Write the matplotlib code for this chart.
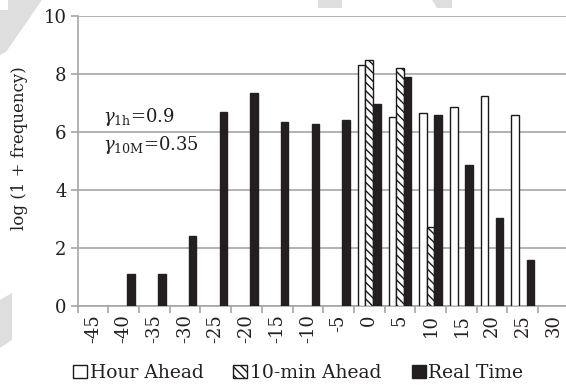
import numpy as np
import matplotlib
matplotlib.use("Agg")
import matplotlib.pyplot as plt
from matplotlib.patches import Polygon, Patch

# error bins (x categories)
categories = [-45, -40, -35, -30, -25, -20, -15, -10, -5, 0, 5, 10, 15, 20, 25, 30]

# log(1 + frequency); None = no bar
hour_ahead = [None, None, None, None, None, None, None, None, None,
              8.30, 6.50, 6.65, 6.87, 7.23, 6.60, None]
ten_min_ahead = [None, None, None, None, None, None, None, None, None,
                 8.47, 8.22, 2.72, None, None, None, None]
real_time = [None, 1.10, 1.10, 2.40, 6.70, 7.33, 6.35, 6.28, 6.42,
             6.95, 7.90, 6.57, 4.85, 3.03, 1.60, None]

series_names = ['Hour Ahead', '10-min Ahead', 'Real Time']
annotation = [r'$\gamma_{\mathrm{1h}}$=0.9', r'$\gamma_{\mathrm{10M}}$=0.35']

plt.rcParams['font.family'] = ['DejaVu Serif']
plt.rcParams['mathtext.fontset'] = 'dejavuserif'
plt.rcParams['hatch.linewidth'] = 1.0

W, H = 566, 387
fig = plt.figure(figsize=(W / 100, H / 100), dpi=100)


def px(x, y):
    return (x / W, 1 - y / H)


# faint watermark shapes of the scanned page
wm = '#dedede'
for pts in [
    [(0, 10), (8, 10), (8, 0), (42, 0), (6, 52), (0, 55)],
    [(318, 0), (342, 0), (342, 8), (318, 8)],
    [(432, 0), (452, 0), (452, 8), (437, 8)],
    [(0, 300), (12, 293), (12, 340), (0, 348)],
]:
    fig.add_artist(Polygon([px(*p) for p in pts], closed=True,
                           facecolor=wm, edgecolor='none', zorder=0))

ax = fig.add_axes([77.6 / W, 1 - 306 / H, (568.8 - 77.6) / W, (306 - 16) / H])

x = np.arange(len(categories))
width = 0.245
styles = [
    dict(facecolor='white', edgecolor='#1a1a1a', hatch=None),
    dict(facecolor='white', edgecolor='#1a1a1a', hatch='\\\\\\\\'),
    dict(facecolor='#231f20', edgecolor='#231f20', hatch=None),
]
for k, (vals, st) in enumerate(zip([hour_ahead, ten_min_ahead, real_time], styles)):
    v = np.array(vals, dtype=float)
    m = ~np.isnan(v)
    ax.bar(x[m] + (k - 1) * width, v[m], width, linewidth=1.0, zorder=3, **st)

ax.set_xlim(-0.5, len(categories) - 0.5)
ax.set_ylim(0, 10)
ax.set_yticks([0, 2, 4, 6, 8, 10])
ax.yaxis.grid(True, color='#a6a6a6', linewidth=1.2, zorder=0)
ax.set_axisbelow(True)

ax.set_xticks(x)
ax.set_xticklabels([str(c) for c in categories], rotation=90, fontsize=13,
                   color='#231f20')
ax.set_xticks(x - 0.5, minor=True)
ax.tick_params(axis='x', which='major', length=0, pad=6)
ax.tick_params(axis='x', which='minor', length=5, width=1.2, color='#a6a6a6',
               direction='out')
ax.tick_params(axis='y', length=5, width=1.2, color='#a6a6a6', labelsize=13,
               labelcolor='#231f20', pad=3)

for s in ['top', 'right']:
    ax.spines[s].set_visible(False)
for s in ['left', 'bottom']:
    ax.spines[s].set_color('#a6a6a6')
    ax.spines[s].set_linewidth(1.2)

fig.text(*px(20, 148), 'log (1 + frequency)', rotation=90, ha='center',
         va='center', fontsize=12, color='#231f20')

fig.text(*px(103, 122), annotation[0], fontsize=13, color='#231f20',
         va='baseline')
fig.text(*px(103, 150), annotation[1], fontsize=13, color='#231f20',
         va='baseline')

handles = [Patch(linewidth=1.0, label=n, **st) for n, st in zip(series_names, styles)]
fig.legend(handles=handles, loc='center', bbox_to_anchor=px(298, 373), ncol=3,
           frameon=False, fontsize=13.5, handlelength=0.75, handleheight=0.75,
           handletextpad=0.15, columnspacing=1.6, borderpad=0, labelcolor='#231f20')

fig.savefig('out.png', dpi=100)
